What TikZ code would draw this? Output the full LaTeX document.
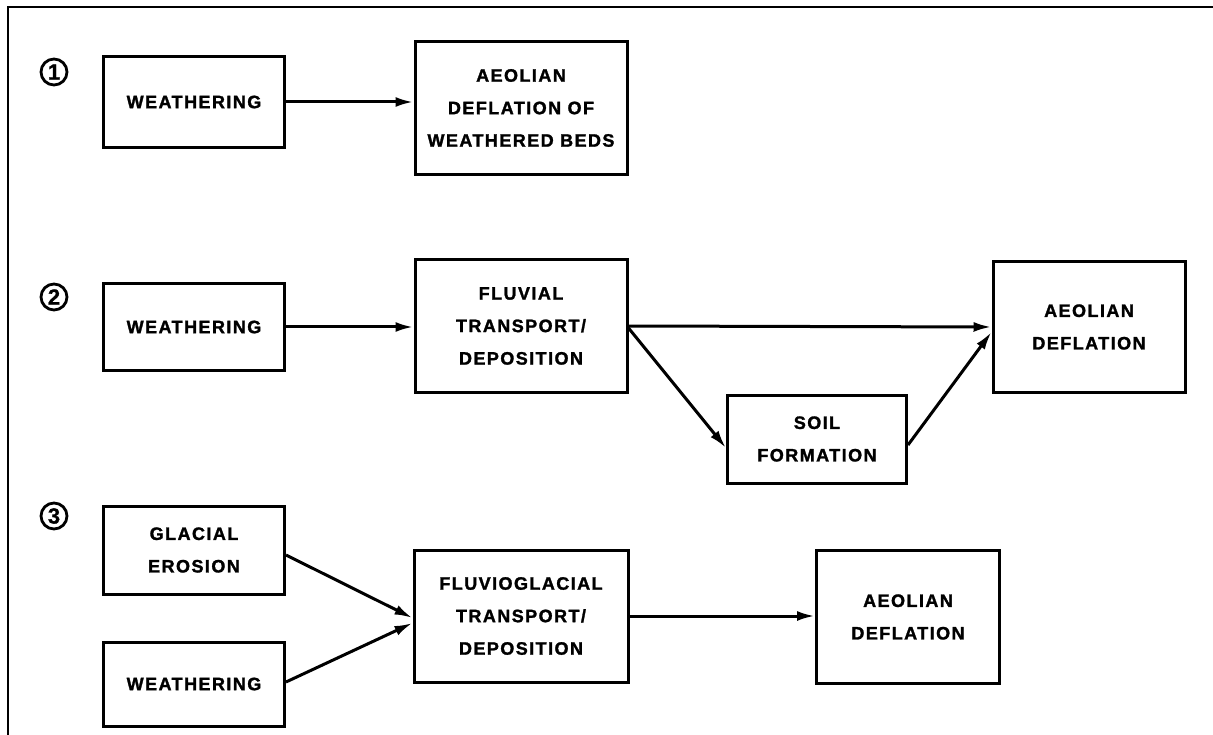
\documentclass[tikz,border=0pt]{standalone}
\usepackage{fontspec}
\setmainfont{Liberation Sans}
\usetikzlibrary{arrows.meta}

\tikzset{
    box/.style={draw=black, line width=3pt, align=center, inner sep=0pt,
        font=\addfontfeature{LetterSpace=8,FakeBold=1.5}\fontsize{18}{32.5}\selectfont\bfseries},
    num/.style={draw=black, circle, line width=2.8pt, minimum size=26pt, inner sep=0pt,
        font=\addfontfeature{FakeBold=1}\fontsize{22}{22}\selectfont\bfseries},
    flow/.style={line width=3pt, -{Latex[length=18pt,width=10pt]}},
}

\begin{document}
\begin{tikzpicture}[x=1pt, y=-1pt]
        \useasboundingbox (0,0) rectangle (1213,735);
        \draw[black, line width=1.6pt] (8,735) -- (8,7) -- (1213,7);
        % scheme numbers
        \foreach \n/\y in {1/72, 2/297, 3/516} {
                \node[num] (c\n) at (54,\y) {\n};
            }
        % first scheme
        \node[box, minimum width=181pt, minimum height=91pt] (wa) at (194,102) {WEATHERING};
        \node[box, minimum width=212pt, minimum height=133pt] (defa) at (521,108) {AEOLIAN\\DEFLATION OF\\WEATHERED BEDS};
        \draw[flow] (wa.east) -- (wa.east -| defa.west);
        % second scheme
        \node[box, minimum width=181pt, minimum height=86pt] (wb) at (194,327) {WEATHERING};
        \node[box, minimum width=212pt, minimum height=132pt] (fluv) at (521,326) {FLUVIAL\\TRANSPORT/\\DEPOSITION};
        \node[box, minimum width=192pt, minimum height=131pt] (defb) at (1089,327) {AEOLIAN\\DEFLATION};
        \node[box, minimum width=179pt, minimum height=88pt] (soil) at (817,439) {SOIL\\FORMATION};
        \draw[flow] (wb.east) -- (wb.east -| fluv.west);
        \draw[flow] (fluv.east) -- (defb.west);
        \draw[flow] ([yshift=-2pt]fluv.east) -- ([yshift=-9pt]soil.west);
        \draw[flow] ([yshift=-6pt]soil.east) -- ([yshift=-5pt]defb.west);
        % third scheme
        \node[box, minimum width=181pt, minimum height=88pt] (glac) at (194,550) {GLACIAL\\EROSION};
        \node[box, minimum width=181pt, minimum height=84pt] (wc) at (194,684) {WEATHERING};
        \node[box, minimum width=214pt, minimum height=132pt] (fglac) at (521,616) {FLUVIOGLACIAL\\TRANSPORT/\\DEPOSITION};
        \node[box, minimum width=183pt, minimum height=133pt] (defc) at (908,617) {AEOLIAN\\DEFLATION};
        \draw[flow] ([yshift=-5pt]glac.east) -- ([yshift=-2pt]fglac.west);
        \draw[flow] ([yshift=2pt]wc.east) -- ([yshift=-7pt]fglac.west);
        \draw[flow] (fglac.east) -- (fglac.east -| defc.west);
    \end{tikzpicture}
\end{document}
